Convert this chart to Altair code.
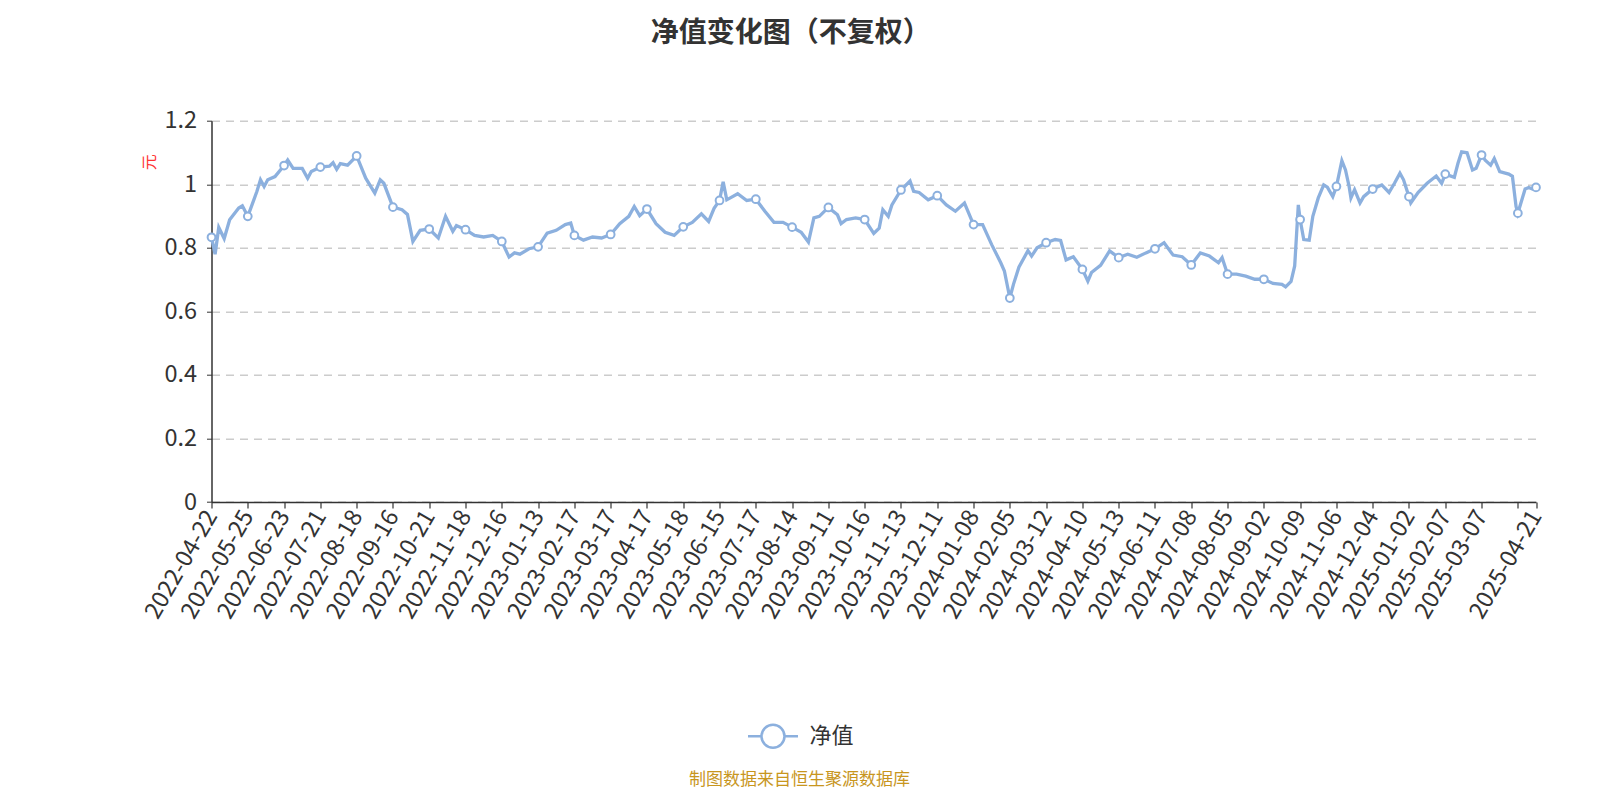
import altair as alt
import pandas as pd

# ---- data ----
tick_dates = [
    "2022-04-22", "2022-05-25", "2022-06-23", "2022-07-21", "2022-08-18", "2022-09-16",
    "2022-10-21", "2022-11-18", "2022-12-16", "2023-01-13", "2023-02-17", "2023-03-17",
    "2023-04-17", "2023-05-18", "2023-06-15", "2023-07-17", "2023-08-14", "2023-09-11",
    "2023-10-16", "2023-11-13", "2023-12-11", "2024-01-08", "2024-02-05", "2024-03-12",
    "2024-04-10", "2024-05-13", "2024-06-11", "2024-07-08", "2024-08-05", "2024-09-02",
    "2024-10-09", "2024-11-06", "2024-12-04", "2025-01-02", "2025-02-07", "2025-03-07",
    "", "2025-04-21",
]
tick_idx = [0, 20, 40, 60, 80, 100, 120, 140, 160, 180, 200, 220, 240, 260, 280, 300,
            320, 340, 360, 380, 400, 420, 440, 460, 480, 500, 520, 540, 560, 580, 600,
            620, 640, 660, 680, 700, 720, 730]

# trading-day index of each sampled point
day_idx = [
    0, 2, 4, 7, 10, 15, 17, 20, 25, 27, 29, 31, 35, 40, 42, 45, 50, 53, 55, 60,
    65, 67, 69, 71, 75, 80, 85, 90, 93, 95, 100, 105, 108, 111, 115, 120, 125, 129, 133, 135,
    140, 145, 150, 155, 160, 164, 167, 170, 175, 180, 185, 190, 195, 198, 200, 205, 210, 215, 220, 225,
    230, 233, 236, 240, 245, 250, 255, 260, 265, 270, 274, 277, 280, 282, 284, 290, 295, 300, 305, 310,
    315, 320, 325, 329, 332, 335, 340, 345, 347, 350, 355, 360, 365, 368, 370, 373, 375, 380, 385, 387,
    390, 395, 400, 405, 410, 415, 420, 425, 430, 435, 437, 440, 442, 445, 450, 452, 455, 460, 465, 468,
    471, 475, 480, 483, 485, 490, 495, 500, 505, 510, 515, 520, 525, 530, 535, 540, 545, 550, 555, 557,
    560, 565, 570, 575, 580, 585, 590, 592, 595, 597, 599, 600, 602, 605, 607, 610, 613, 615, 618, 620,
    623, 625, 627, 628, 630, 633, 635, 640, 645, 649, 652, 655, 657, 660, 661, 665, 670, 675, 678, 680,
    685, 687, 689, 692, 695, 697, 700, 702, 705, 707, 710, 715, 717, 719, 720, 724, 726, 728, 730,
]
nav = [
    0.833, 0.780, 0.864, 0.829, 0.888, 0.925, 0.932, 0.899, 0.977, 1.014, 0.993, 1.014, 1.024, 1.059, 1.076, 1.050, 1.050, 1.019, 1.040, 1.054,
    1.057, 1.068, 1.047, 1.065, 1.060, 1.089, 1.019, 0.972, 1.014, 1.003, 0.928, 0.920, 0.905, 0.820, 0.855, 0.859, 0.831, 0.899, 0.852, 0.870,
    0.857, 0.839, 0.834, 0.839, 0.820, 0.771, 0.784, 0.780, 0.797, 0.803, 0.846, 0.855, 0.873, 0.878, 0.839, 0.824, 0.834, 0.831, 0.842, 0.876,
    0.899, 0.930, 0.901, 0.922, 0.876, 0.849, 0.839, 0.866, 0.880, 0.907, 0.883, 0.924, 0.949, 1.008, 0.951, 0.970, 0.949, 0.953, 0.915, 0.880,
    0.880, 0.865, 0.849, 0.818, 0.894, 0.899, 0.927, 0.904, 0.876, 0.889, 0.894, 0.889, 0.845, 0.862, 0.920, 0.899, 0.935, 0.982, 1.010, 0.978,
    0.974, 0.951, 0.964, 0.935, 0.915, 0.941, 0.873, 0.873, 0.810, 0.753, 0.727, 0.642, 0.685, 0.739, 0.791, 0.774, 0.800, 0.816, 0.826, 0.823,
    0.762, 0.772, 0.732, 0.695, 0.722, 0.745, 0.790, 0.769, 0.780, 0.770, 0.784, 0.797, 0.816, 0.777, 0.772, 0.746, 0.784, 0.774, 0.753, 0.769,
    0.717, 0.717, 0.711, 0.701, 0.701, 0.688, 0.685, 0.677, 0.694, 0.743, 0.935, 0.889, 0.826, 0.824, 0.899, 0.957, 0.998, 0.991, 0.961, 0.993,
    1.074, 1.045, 0.993, 0.957, 0.983, 0.941, 0.961, 0.985, 0.998, 0.974, 1.003, 1.035, 1.014, 0.961, 0.941, 0.974, 1.003, 1.026, 1.003, 1.032,
    1.022, 1.066, 1.102, 1.099, 1.045, 1.050, 1.092, 1.076, 1.060, 1.081, 1.040, 1.032, 1.025, 0.930, 0.909, 0.985, 0.990, 0.985, 0.990,
]
y_ticks = [0, 0.2, 0.4, 0.6, 0.8, 1.0, 1.2]
series_name = "净值"
title_text = "净值变化图（不复权）"
y_title = "元"
source_text = "制图数据来自恒生聚源数据库"

LINE_COLOR = "#8cb0de"
FONT = "Noto Sans CJK SC"

df = pd.DataFrame({"i": day_idx, "v": nav, "s": series_name})
marks_df = df[df["i"].isin(tick_idx)]

label_expr = (
    "[" + ",".join("'" + t + "'" for t in tick_dates) + "]"
    + "[indexof([" + ",".join(str(t) for t in tick_idx) + "], datum.value)]"
)

x_enc = alt.X(
    "i:Q",
    scale=alt.Scale(domain=[0, 730], nice=False, zero=False),
    axis=alt.Axis(
        values=tick_idx, labelExpr=label_expr, labelAngle=300, labelAlign="right",
        labelBaseline="middle", labelOverlap=False, labelFlush=False, labelBound=False,
        labelFontSize=23.5, labelColor="#333", labelFont=FONT, labelPadding=4,
        domainColor="#333", domainWidth=1.5, tickColor="#333", tickSize=6, tickWidth=1.2,
        grid=False, title=None,
    ),
)
y_enc = alt.Y(
    "v:Q",
    scale=alt.Scale(domain=[0, 1.2], nice=False, zero=True),
    axis=alt.Axis(
        values=y_ticks, format="~g", labelFontSize=23.5, labelColor="#333", labelFont=FONT,
        labelPadding=10, domainColor="#333", domainWidth=1.5, tickColor="#333", tickSize=5,
        grid=True, gridColor="#cccccc", gridDash=[8, 6], gridWidth=1.5,
        title=y_title, titleColor="#ff3333", titleFont=FONT, titleFontSize=16,
        titleFontWeight="normal", titleAngle=270, titleX=-62, titleY=41,
        titleAlign="center", titleBaseline="middle",
    ),
)

legend_symbol = ("M-1,0L-0.46,0M0.46,0L1,0M0.46,0A0.46,0.46,0,1,1,-0.46,0"
                 "A0.46,0.46,0,1,1,0.46,0Z")

line = alt.Chart(df).mark_line(strokeWidth=3.3).encode(
    x=x_enc,
    y=y_enc,
    color=alt.Color(
        "s:N",
        scale=alt.Scale(range=[LINE_COLOR]),
        legend=alt.Legend(
            title=None, orient="none", legendX=535, legendY=589, padding=0,
            symbolType=legend_symbol, symbolSize=2500, symbolStrokeWidth=2.5,
            symbolStrokeColor=LINE_COLOR, labelFontSize=22, labelColor="#333",
            labelFont=FONT, labelOffset=10,
        ),
    ),
)

points = alt.Chart(marks_df).mark_point(
    shape="circle", filled=True, fill="white", stroke=LINE_COLOR, strokeWidth=2,
    size=60, opacity=1,
).encode(x=x_enc, y=y_enc)

source = alt.Chart(pd.DataFrame({"t": [source_text]})).mark_text(
    font=FONT, fontSize=17, color="#c8961e", align="center", baseline="alphabetic",
).encode(x=alt.value(588), y=alt.value(664), text="t:N")

chart = alt.layer(line, points, source).properties(
    width=1324.5,
    height=381.3,
    autosize="none",
    background="white",
    padding={"left": 203.5, "top": 112.7, "right": 56, "bottom": 290},
    title=alt.TitleParams(
        text=title_text, font=FONT, fontSize=28, fontWeight="bold", color="#333",
        anchor="middle", frame="group", dx=-83, offset=61,
    ),
).configure_view(stroke=None)

chart.save("out.html", embed_options={"renderer": "svg", "actions": False})
